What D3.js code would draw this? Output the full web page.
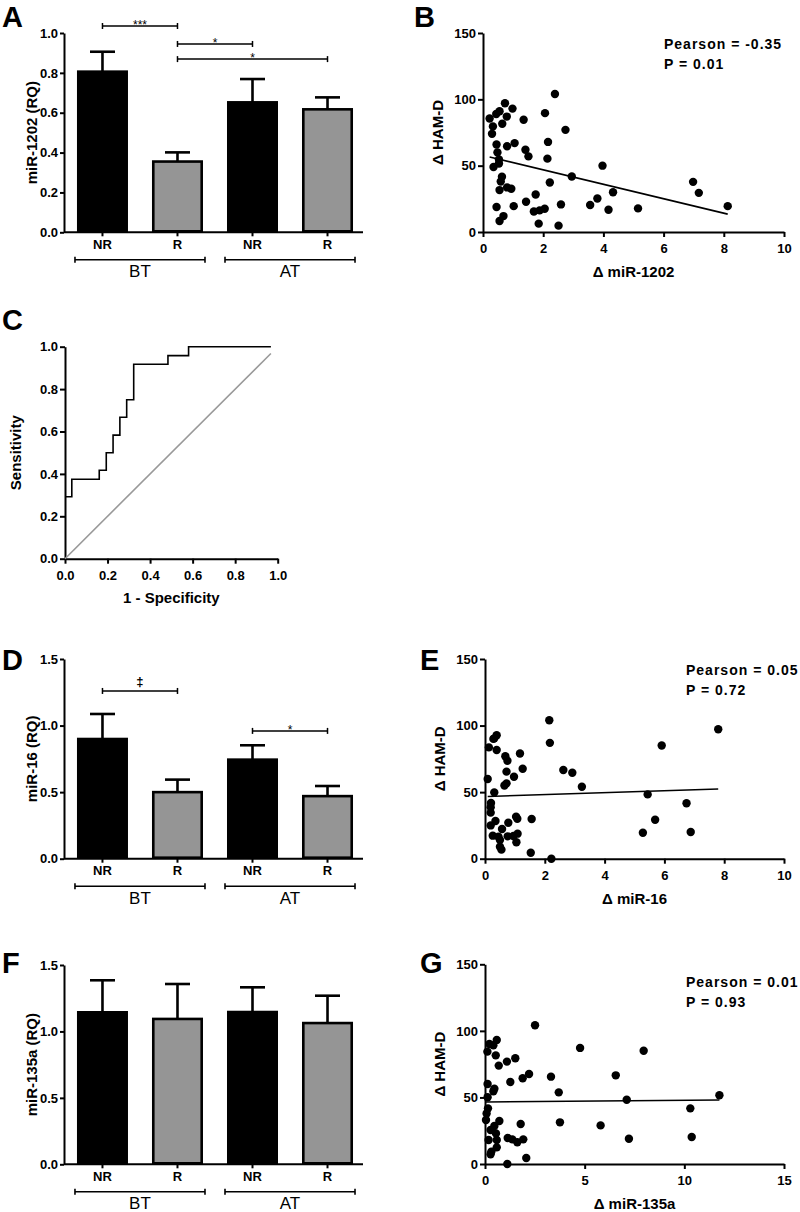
<!DOCTYPE html>
<html><head><meta charset="utf-8">
<script src="https://cdn.jsdelivr.net/npm/d3@7"></script>
<style>
body{margin:0;background:#fff}
svg{display:block}
text{font-family:'Liberation Sans',Arial,Helvetica,sans-serif}
</style>
</head><body>
<script>
// ---------------- DATA ----------------
const groups = ["NR", "R", "NR", "R"];
const phases = ["BT", "AT"];

const mir1202Mean = [0.806, 0.355, 0.652, 0.617];
const mir1202Err  = [0.100, 0.046, 0.117, 0.060];
const mir16Mean   = [0.899, 0.500, 0.744, 0.470];
const mir16Err    = [0.188, 0.094, 0.108, 0.076];
const mir135aMean = [1.144, 1.094, 1.146, 1.063];
const mir135aErr  = [0.241, 0.263, 0.186, 0.206];

const sigA = [
  {from: 0, to: 1, level: 1.035, label: "***"},
  {from: 1, to: 2, level: 0.945, label: "*"},
  {from: 1, to: 3, level: 0.869, label: "*"}
];
const sigD = [
  {from: 0, to: 1, level: 1.26, label: "\u2021"},
  {from: 2, to: 3, level: 0.96, label: "*"}
];

// Panel B: delta miR-1202 vs delta HAM-D
const bX = [0.22,0.33,0.30,0.44,0.55,0.73,0.79,0.98,0.64,0.45,0.48,0.80,1.05,0.35,0.53,0.53,0.63,0.59,0.55,0.80,0.94,0.45,1.02,0.68,0.55,1.35,1.41,1.51,1.43,1.75,1.69,1.88,2.05,1.85,2.06,2.16,2.14,2.22,2.39,2.51,2.59,2.74,2.95,3.56,3.80,3.97,4.17,4.32,5.15,6.98,7.17,8.13];
const bY = [85.6,79.6,74,89,91,97,87,93,81.6,66,60,64.6,67,49,51.6,54.6,41.6,38,31.6,33.6,32.6,18.8,19.5,12,8.3,84.6,62,57,22.8,28.3,15.5,16.3,17.5,6.3,89.6,67.9,55.3,37.3,104,4.8,20.8,77,41.8,20.3,25.3,50,16.8,30,17.8,37.8,29.5,19.5];
const bFit = {intercept: 57.8, slope: -5.45};
const bStats = ["Pearson = -0.35", "P = 0.01"];

// Panel E: delta miR-16 vs delta HAM-D
const eX = [0.09,0.13,0.28,0.39,0.39,0.31,0.20,0.19,0.19,0.31,0.19,0.35,0.26,0.45,0.50,0.57,0.55,0.50,0.68,0.75,0.72,0.72,0.65,0.78,0.76,0.95,0.97,1.17,1.26,1.04,1.08,1.09,1.05,1.56,1.53,2.15,2.17,2.22,2.62,2.92,3.24,5.28,5.44,5.69,5.91,6.74,6.88,7.80];
const eY = [59.9,83.6,90,92.7,81.6,90.4,41.8,38.6,34.6,49.8,25,28.3,17.3,16.5,14,22.3,6.8,9,76.9,73.6,65.4,56.6,55,27,16.8,17,61.6,79,67.6,31.6,30,18.8,12.3,29.8,4.5,104,87,0,66.6,64.6,54,19.5,48.3,29.3,85,41.6,20,97.2];
const eFit = {intercept: 46.7, slope: 0.72};
const eStats = ["Pearson = 0.05", "P = 0.72"];

// Panel G: delta miR-135a vs delta HAM-D
const gX = [0.12,0.22,0.42,0.59,0.54,0.69,1.10,1.52,1.27,1.89,2.21,2.51,3.31,3.70,3.76,4.77,5.80,6.56,7.11,7.22,7.96,10.30,10.37,11.76,0.13,0.13,0.15,0.08,0.05,0.28,0.47,0.18,0.55,0.59,0.59,0.28,0.32,0.72,0.47,0.42,1.14,1.37,1.62,1.92,1.79,2.07,1.12];
const gY = [84.4,90.2,89.2,93.2,81.6,73.9,76.9,79.4,61.6,64.4,67.6,104.2,65.6,53.8,31.3,87.2,29,66.6,48.3,19,85.1,41.8,20.3,51.6,60.1,50.1,41.8,38,33,25.5,28.5,18,23,18,12.5,7.3,9.3,32.3,56.6,54.6,19.5,18.5,16.3,18.5,30,4.5,0];
const gFit = {intercept: 46.6, slope: 0.128};
const gStats = ["Pearson = 0.01", "P = 0.93"];

// Panel C: ROC curve (step points)
const rocFpr = [0, 0.032, 0.161, 0.194, 0.226, 0.258, 0.290, 0.323, 0.484, 0.581, 0.968];
const rocTpr = [0.292, 0.375, 0.417, 0.500, 0.583, 0.667, 0.750, 0.917, 0.958, 1.000, 1.000];
const refLine = [0, 0.968];

// ---------------- DRAWING ----------------
const W = 800, H = 1212;
const svg = d3.select("body").append("svg").attr("width", W).attr("height", H);
const BOLD = 700;

function styleAxis(g, fs) {
  g.selectAll("path.domain").attr("stroke", "#000").attr("stroke-width", 2);
  g.selectAll(".tick line").attr("stroke", "#000").attr("stroke-width", 2);
  g.selectAll(".tick text").attr("font-size", fs).attr("font-weight", BOLD).attr("fill", "#000")
    .style("font-family", "'Liberation Sans',Arial,sans-serif");
}

function letter(ch, x, y) {
  svg.append("text").attr("x", x).attr("y", y).text(ch)
    .attr("font-size", 29).attr("font-weight", BOLD).attr("fill", "#000");
}

function barPanel(cfg, means, errs, sig) {
  const g = svg.append("g");
  const x = d3.scaleBand().domain(d3.range(groups.length)).range([cfg.x0, cfg.x1])
    .paddingInner(0.32).paddingOuter(0.153).align(0.565);
  const y = d3.scaleLinear().domain([0, cfg.yMax]).range([cfg.yBot, cfg.yTop]);
  const bw = x.bandwidth();

  // error bars (one-sided, upward)
  const eb = g.append("g");
  means.forEach((m, i) => {
    const cx = x(i) + bw / 2;
    eb.append("line").attr("x1", cx).attr("x2", cx).attr("y1", y(m)).attr("y2", y(m + errs[i]))
      .attr("stroke", "#000").attr("stroke-width", 2.6);
    eb.append("line").attr("x1", cx - 12.5).attr("x2", cx + 12.5).attr("y1", y(m + errs[i])).attr("y2", y(m + errs[i]))
      .attr("stroke", "#000").attr("stroke-width", 2.6);
  });

  // bars
  g.append("g").selectAll("rect").data(means).join("rect")
    .attr("x", (d, i) => x(i) + 1.3).attr("width", bw - 2.6)
    .attr("y", d => y(d)).attr("height", d => y(0) - y(d) - 1)
    .attr("fill", (d, i) => i % 2 ? "#959595" : "#000")
    .attr("stroke", "#000").attr("stroke-width", 2.6);

  // y axis
  const ya = g.append("g").attr("transform", `translate(${cfg.x0},0)`)
    .call(d3.axisLeft(y).tickValues(d3.range(0, cfg.yMax + 1e-9, cfg.step)).tickFormat(d3.format(".1f"))
      .tickSize(4).tickSizeOuter(0).tickPadding(2));
  styleAxis(ya, 13);

  // x axis
  const xa = g.append("g").attr("transform", `translate(0,${cfg.yBot})`)
    .call(d3.axisBottom(x).tickFormat(i => groups[i]).tickSize(4).tickSizeOuter(0).tickPadding(3));
  styleAxis(xa, 13);
  xa.select("path.domain").attr("d", `M${cfg.x0},0H${cfg.x1}`);

  // y title
  g.append("text").attr("transform", `translate(37,${(cfg.yTop + cfg.yBot) / 2}) rotate(-90)`)
    .attr("text-anchor", "middle").attr("font-size", 15).attr("font-weight", BOLD).text(cfg.title);

  // phase group lines
  phases.forEach((p, k) => {
    const xa0 = x(2 * k) - 2, xa1 = x(2 * k + 1) + bw + 2;
    const gy = cfg.yBot + 27.5;
    g.append("line").attr("x1", xa0).attr("x2", xa1).attr("y1", gy).attr("y2", gy).attr("stroke", "#000").attr("stroke-width", 1.6);
    [xa0, xa1].forEach(xx => g.append("line").attr("x1", xx).attr("x2", xx).attr("y1", gy - 3).attr("y2", gy + 3).attr("stroke", "#000").attr("stroke-width", 1.6));
    g.append("text").attr("x", (xa0 + xa1) / 2).attr("y", cfg.yBot + 45).attr("text-anchor", "middle")
      .attr("font-size", 17).text(p);
  });

  // significance brackets
  (sig || []).forEach(s => {
    const a = x(s.from) + bw / 2, b = x(s.to) + bw / 2, ly = y(s.level);
    g.append("line").attr("x1", a).attr("x2", b).attr("y1", ly).attr("y2", ly).attr("stroke", "#000").attr("stroke-width", 1.5);
    [a, b].forEach(xx => g.append("line").attr("x1", xx).attr("x2", xx).attr("y1", ly - 3).attr("y2", ly + 3).attr("stroke", "#000").attr("stroke-width", 1.5));
    const dag = s.label === "\u2021";
    g.append("text").attr("x", (a + b) / 2).attr("y", dag ? ly - 4.5 : ly + 3)
      .attr("text-anchor", "middle").attr("font-size", dag ? 13 : 12).attr("font-weight", dag ? BOLD : 400)
      .attr("fill", "#000").text(s.label);
  });
}

function scatterPanel(cfg, xs, ys, fit, stats) {
  const g = svg.append("g");
  const x = d3.scaleLinear().domain([0, cfg.xMax]).range([cfg.x0, cfg.x1]);
  const y = d3.scaleLinear().domain([0, 150]).range([cfg.yBot, cfg.yTop]);

  const ya = g.append("g").attr("transform", `translate(${cfg.x0},0)`)
    .call(d3.axisLeft(y).tickValues([0, 50, 100, 150]).tickSize(5).tickSizeOuter(0).tickPadding(2));
  styleAxis(ya, 13);
  const xa = g.append("g").attr("transform", `translate(0,${cfg.yBot})`)
    .call(d3.axisBottom(x).tickValues(d3.range(0, cfg.xMax + 1e-9, cfg.xStep)).tickSize(5).tickSizeOuter(0).tickPadding(7));
  styleAxis(xa, 13);

  g.append("g").selectAll("circle").data(xs).join("circle")
    .attr("cx", d => x(d)).attr("cy", (d, i) => y(ys[i])).attr("r", 4.2).attr("fill", "#000");

  const lx0 = d3.min(xs), lx1 = d3.max(xs);
  g.append("line").attr("x1", x(lx0)).attr("x2", x(lx1))
    .attr("y1", y(fit.intercept + fit.slope * lx0)).attr("y2", y(fit.intercept + fit.slope * lx1))
    .attr("stroke", "#000").attr("stroke-width", 1.6);

  g.append("text").attr("transform", `translate(${cfg.yTitleX},${(cfg.yTop + cfg.yBot) / 2}) rotate(-90)`)
    .attr("text-anchor", "middle").attr("font-size", 15).attr("font-weight", BOLD).text("\u0394 HAM-D");
  g.append("text").attr("x", (cfg.x0 + cfg.x1) / 2).attr("y", cfg.yBot + 45)
    .attr("text-anchor", "middle").attr("font-size", 15).attr("font-weight", BOLD).text(cfg.xTitle);

  stats.forEach((s, i) => {
    g.append("text").attr("x", cfg.statX).attr("y", cfg.statY + i * 20)
      .attr("font-size", 14).attr("font-weight", BOLD).attr("letter-spacing", 1).text(s);
  });
}

function rocPanel(cfg) {
  const g = svg.append("g");
  const x = d3.scaleLinear().domain([0, 1]).range([cfg.x0, cfg.x1]);
  const y = d3.scaleLinear().domain([0, 1]).range([cfg.yBot, cfg.yTop]);
  const ticks = d3.range(0, 1.0001, 0.2);
  const ya = g.append("g").attr("transform", `translate(${cfg.x0},0)`)
    .call(d3.axisLeft(y).tickValues(ticks).tickFormat(d3.format(".1f")).tickSize(5).tickSizeOuter(0).tickPadding(2));
  styleAxis(ya, 13);
  const xa = g.append("g").attr("transform", `translate(0,${cfg.yBot})`)
    .call(d3.axisBottom(x).tickValues(ticks).tickFormat(d3.format(".1f")).tickSize(5).tickSizeOuter(0).tickPadding(7));
  styleAxis(xa, 13);

  g.append("line").attr("x1", x(refLine[0])).attr("y1", y(refLine[0])).attr("x2", x(refLine[1])).attr("y2", y(refLine[1]))
    .attr("stroke", "#999").attr("stroke-width", 1.6);

  const pts = rocFpr.map((f, i) => [f, rocTpr[i]]);
  g.append("path").datum(pts)
    .attr("d", d3.line().x(d => x(d[0])).y(d => y(d[1])).curve(d3.curveStepAfter))
    .attr("fill", "none").attr("stroke", "#000").attr("stroke-width", 1.6);

  g.append("text").attr("transform", `translate(21,${(cfg.yTop + cfg.yBot) / 2}) rotate(-90)`)
    .attr("text-anchor", "middle").attr("font-size", 15).attr("font-weight", BOLD).text("Sensitivity");
  g.append("text").attr("x", (cfg.x0 + cfg.x1) / 2).attr("y", cfg.yBot + 44)
    .attr("text-anchor", "middle").attr("font-size", 15).attr("font-weight", BOLD).text("1 - Specificity");
}

// Panel A
barPanel({x0: 64, x1: 363, yTop: 33, yBot: 232.3, yMax: 1.0, step: 0.2, title: "miR-1202 (RQ)"}, mir1202Mean, mir1202Err, sigA);
letter("A", 2, 27);
// Panel B
scatterPanel({x0: 483, x1: 784, yTop: 33, yBot: 232, xMax: 10, xStep: 2, yTitleX: 443, xTitle: "\u0394 miR-1202", statX: 664, statY: 49}, bX, bY, bFit, bStats);
letter("B", 414, 27);
// Panel C
rocPanel({x0: 65, x1: 277.7, yTop: 346.7, yBot: 558.7});
letter("C", 2, 330);
// Panel D
barPanel({x0: 64, x1: 363, yTop: 659, yBot: 858.7, yMax: 1.5, step: 0.5, title: "miR-16 (RQ)"}, mir16Mean, mir16Err, sigD);
letter("D", 2, 670);
// Panel E
scatterPanel({x0: 485, x1: 784, yTop: 659, yBot: 858.7, xMax: 10, xStep: 2, yTitleX: 445, xTitle: "\u0394 miR-16", statX: 686, statY: 675}, eX, eY, eFit, eStats);
letter("E", 420, 670);
// Panel F
barPanel({x0: 64, x1: 363, yTop: 965, yBot: 1164.3, yMax: 1.5, step: 0.5, title: "miR-135a (RQ)"}, mir135aMean, mir135aErr, []);
letter("F", 2, 973);
// Panel G
scatterPanel({x0: 485, x1: 784, yTop: 964.3, yBot: 1164, xMax: 15, xStep: 5, yTitleX: 445, xTitle: "\u0394 miR-135a", statX: 686, statY: 987}, gX, gY, gFit, gStats);
letter("G", 420, 973);
</script>
</body></html>
